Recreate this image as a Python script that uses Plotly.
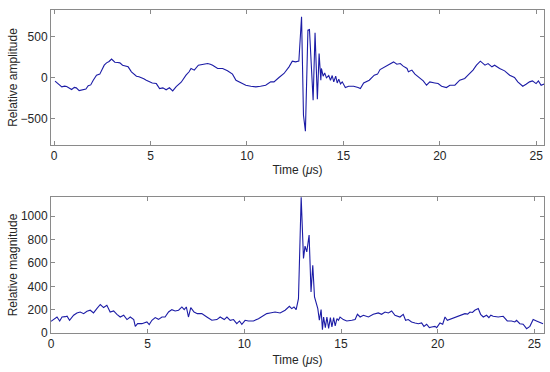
import plotly.graph_objects as go

# --- Top panel: relative amplitude vs time (µs)
amp_t = [0.05,0.2,0.4,0.55,0.65,0.8,0.91,1.05,1.15,1.3,1.45,1.65,1.77,1.9,2.03,2.2,2.37,2.5,2.6,2.72,
         2.85,2.98,3.08,3.15,3.3,3.41,3.55,3.67,3.84,4.01,4.15,4.27,4.4,4.53,4.65,4.78,4.95,5.09,5.3,5.47,
         5.64,5.81,5.98,6.15,6.33,6.59,6.84,7.0,7.1,7.27,7.48,7.7,7.96,8.1,8.22,8.48,8.74,8.99,9.25,9.43,
         9.68,9.94,10.2,10.46,10.7,10.97,11.23,11.4,11.66,11.92,12.18,12.35,12.52,12.69,12.83,12.93,13.03,
         13.16,13.24,13.43,13.53,13.65,13.74,13.83,13.86,13.95,14.03,14.12,14.24,14.33,14.42,14.5,14.6,
         14.68,14.76,14.85,14.94,15.1,15.27,15.53,15.76,15.88,16.05,16.34,16.6,16.77,16.9,17.2,17.42,17.6,
         17.77,17.95,18.1,18.3,18.37,18.55,18.71,18.97,19.14,19.31,19.48,19.74,19.91,20.09,20.34,20.52,
         20.78,21.03,21.29,21.46,21.72,21.9,22.1,22.34,22.5,22.7,22.84,23.1,23.36,23.62,23.87,24.04,24.3,
         24.47,24.65,24.8,24.99,25.11,25.25,25.4]
amp_v = [-45,-80,-114,-105,-110,-130,-146,-120,-126,-160,-150,-140,-100,-90,-33,28,41,95,150,178,
         195,225,200,186,182,178,150,138,130,69,45,16,10,0,-15,-33,-50,-66,-74,-135,
         -126,-150,-125,-163,-110,-57,28,70,110,90,150,160,170,162,150,110,110,81,41,-33,
         -66,-94,-106,-114,-106,-94,-53,-53,0,49,130,199,190,199,739,-460,-655,
         577,585,-277,544,-265,292,-33,110,16,56,-4,24,-33,24,-53,16,
         -66,-20,-78,-53,-122,-106,-106,-122,-135,-66,-33,28,41,97,138,170,190,
         162,170,138,110,69,90,41,-12,-41,-94,-53,-66,-74,-106,-122,-94,
         -94,-33,-12,28,90,150,199,150,170,130,150,110,81,28,0,-53,-106,
         -82,-53,-41,-74,-41,-94,-80]

# --- Bottom panel: relative magnitude vs time (µs)
mag_t = [0,0.14,0.31,0.45,0.57,0.74,0.83,0.96,1.17,1.34,1.51,1.69,1.86,2.03,2.2,2.37,2.55,2.72,2.89,3.06,
         3.24,3.41,3.58,3.76,3.93,4.1,4.28,4.36,4.48,4.7,4.96,5.08,5.22,5.39,5.56,5.74,5.9,6.08,6.25,6.42,
         6.6,6.77,6.89,7.0,7.11,7.23,7.4,7.57,7.8,8.06,8.32,8.58,8.75,8.96,9.1,9.27,9.44,9.61,9.75,9.87,
         10.04,10.21,10.47,10.73,10.99,11.16,11.33,11.59,11.85,12.11,12.33,12.45,12.57,12.68,12.8,12.94,
         13.06,13.14,13.23,13.35,13.45,13.54,13.63,13.71,13.8,13.88,13.97,14.04,14.1,14.19,14.27,14.36,
         14.45,14.53,14.62,14.7,14.79,14.87,14.95,15.12,15.3,15.56,15.73,15.85,15.99,16.16,16.42,16.67,
         16.93,17.1,17.28,17.45,17.62,17.79,18.05,18.22,18.34,18.48,18.65,18.83,19.0,19.17,19.29,19.43,
         19.57,19.69,19.86,19.95,20.12,20.26,20.38,20.5,20.72,20.85,20.98,21.1,21.19,21.3,21.41,21.55,
         21.67,21.8,21.92,22.1,22.22,
         22.36,22.53,22.65,22.75,22.87,23.13,23.39,23.6,23.82,23.99,24.08,24.25,24.42,24.6,24.77,24.94,
         25.11,25.32,25.45]
mag_v = [100,115,137,103,137,140,144,109,152,172,180,166,186,195,172,209,244,218,238,180,
         189,160,137,152,115,137,115,57,80,80,95,72,109,132,117,137,137,180,200,189,
         195,223,200,223,137,218,180,166,166,137,109,115,137,115,137,109,115,80,103,75,
         109,103,103,123,152,166,172,180,172,195,229,209,223,200,295,1162,
         639,744,695,839,352,581,309,266,209,109,200,29,137,46,137,40,
         132,52,132,60,123,109,137,115,103,109,115,160,137,152,137,160,
         172,160,180,172,189,152,137,160,109,115,95,86,80,86,57,75,
         46,52,57,46,86,75,137,109,123,128,137,146,152,158,166,162,
         180,176,195,209,160,
         137,152,132,152,143,137,143,103,103,95,109,80,75,37,57,115,
         103,86,80]

x_ticks = [0, 5, 10, 15, 20, 25]
amp_ticks = [-500, 0, 500]
mag_ticks = [0, 200, 400, 600, 800, 1000]

line_color = "#1c1ca6"
frame = "#8a8a8a"
font = dict(family="Liberation Sans, Arial, sans-serif", size=12, color="#262626")

fig = go.Figure()
fig.add_trace(go.Scatter(x=amp_t, y=amp_v, mode="lines", line=dict(color=line_color, width=1.1),
                         xaxis="x", yaxis="y", showlegend=False))
fig.add_trace(go.Scatter(x=mag_t, y=mag_v, mode="lines", line=dict(color=line_color, width=1.1),
                         xaxis="x2", yaxis="y2", showlegend=False))

axis_common = dict(showline=True, linecolor=frame, linewidth=1, mirror="allticks",
                   ticks="inside", ticklen=4, tickcolor=frame, showgrid=False, zeroline=False,
                   tickfont=font, automargin=False)

fig.update_layout(
    width=550, height=372,
    margin=dict(l=51, r=6, t=10, b=39, autoexpand=False),
    paper_bgcolor="white", plot_bgcolor="white",
    font=font,
    xaxis=dict(domain=[0, 1], anchor="y", range=[-0.16, 25.4], tickvals=x_ticks,
               title=dict(text="Time (<i>μ</i>s)", standoff=3, font=font), **axis_common),
    yaxis=dict(domain=[0.582, 1], anchor="x", range=[-822, 822], tickvals=amp_ticks,
               title=dict(text="Relative amplitude", standoff=0, font=font), **axis_common),
    xaxis2=dict(domain=[0, 1], anchor="y2", range=[0, 25.5], tickvals=x_ticks,
                title=dict(text="Time (<i>μ</i>s)", standoff=5, font=font), **axis_common),
    yaxis2=dict(domain=[0, 0.421], anchor="x2", range=[0, 1165], tickvals=mag_ticks,
                title=dict(text="Relative magnitude", standoff=0, font=font), **axis_common),
)

fig.write_html("out.html", config={"displayModeBar": False},
               post_script="document.body.style.margin='0';")
